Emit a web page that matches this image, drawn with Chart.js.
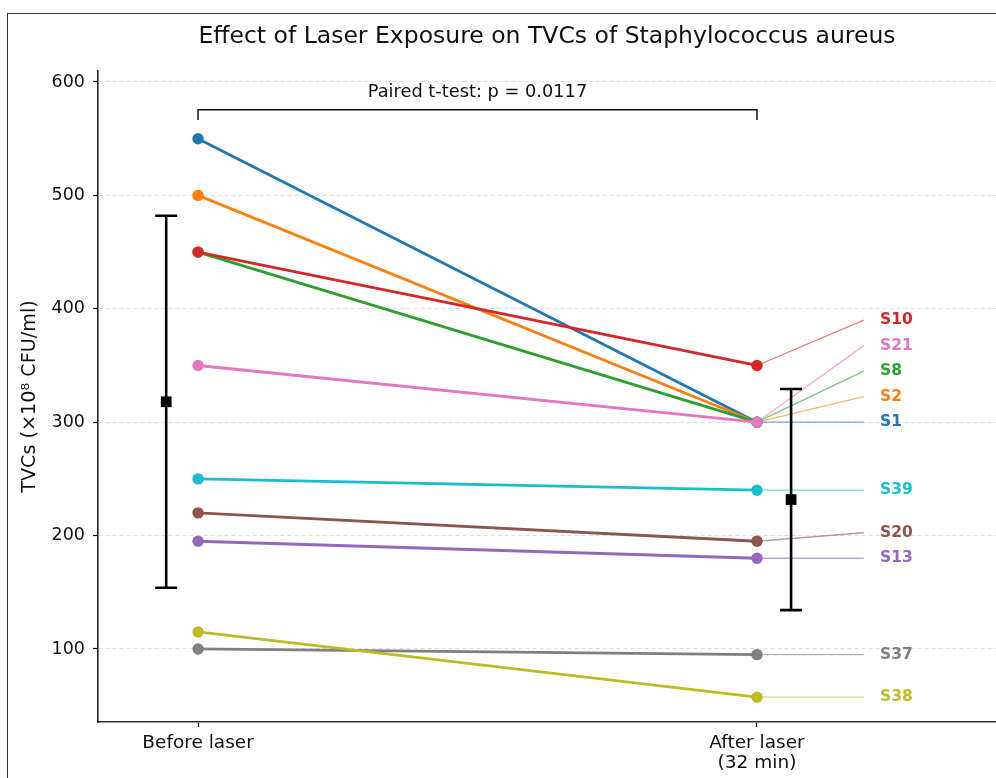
<!DOCTYPE html>
<html>
<head>
<meta charset="utf-8">
<script src="https://cdn.jsdelivr.net/npm/chart.js@4.4.1/dist/chart.umd.min.js"></script>
<style>
  html, body { margin: 0; padding: 0; background: #fff; }
  #wrap { position: relative; width: 996px; height: 778px; overflow: hidden; }
  #frame { position: absolute; left: 7px; top: 12.5px; right: -4px; bottom: -4px;
           border-top: 1.5px solid #333; border-left: 1.5px solid #333; }
  #c { position: absolute; left: 0; top: 0; }
</style>
</head>
<body>
<div id="wrap"><div id="frame"></div><canvas id="c" width="996" height="778"></canvas></div>
<script>
// Strains and their TVCs (x10^8 CFU/ml) before / after 32 min laser exposure
const strains = ['S1', 'S2', 'S8', 'S10', 'S13', 'S20', 'S21', 'S37', 'S38', 'S39'];
const beforeVals = [550, 500, 450, 450, 195, 220, 350, 100, 115, 250];
const afterVals = [300, 300, 300, 350, 180, 195, 300, 95, 57.5, 240];
// where each strain label sits (spread out so they don't overlap)
const labelY = [300, 322.5, 345, 390, 180, 202.5, 367.5, 95, 57.5, 240];
const conditions = ['Before laser', ['After laser', '(32 min)']];
const groupMeans = [318, 231.75];
const groupSD = [164, 97.5];
const yTicks = [100, 200, 300, 400, 500, 600];
const pText = 'Paired t-test: p = 0.0117';

const colors = ['#1f77b4', '#ff7f0e', '#2ca02c', '#d62728', '#9467bd',
                '#8c564b', '#e377c2', '#7f7f7f', '#bcbd22', '#17becf'];

// x positions (Before = 0, After = 1)
const meanX = [-0.057, 1.061];
const connectorEndX = 1.191;
const labelX = 1.22;
const bracketY = 575.5, bracketTickY = 566.5, pTextY = 590.5;
const FONT = "'DejaVu Sans', sans-serif";

const datasets = [];
strains.forEach((s, i) => {
    datasets.push({
        label: s,
        data: [{ x: 0, y: beforeVals[i] }, { x: 1, y: afterVals[i] }],
        showLine: true,
        borderColor: colors[i],
        backgroundColor: colors[i],
        borderWidth: 2.8,
        pointRadius: 5.7,
        pointHoverRadius: 5.7,
        pointBorderWidth: 0,
        order: 100 - i
    });
    datasets.push({
        label: s + ' label',
        data: [{ x: 1, y: afterVals[i] }, { x: connectorEndX, y: labelY[i] }],
        showLine: true,
        borderColor: colors[i] + '99',
        borderWidth: 1.3,
        pointRadius: 0,
        order: 200 - i
    });
});
datasets.push({
    label: 'mean',
    data: meanX.map((x, i) => ({ x: x, y: groupMeans[i] })),
    pointStyle: 'rect',
    pointRadius: 7.6,
    pointHoverRadius: 7.6,
    backgroundColor: '#000',
    borderWidth: 0,
    order: 0
});

const extras = {
    id: 'extras',
    afterDatasetsDraw(chart) {
        const { ctx, chartArea, scales: { x, y } } = chart;
        ctx.save();
        // error bars (mean +/- SD)
        ctx.strokeStyle = '#000';
        ctx.lineWidth = 2.6;
        meanX.forEach((mx, i) => {
            const px = x.getPixelForValue(mx);
            const top = y.getPixelForValue(groupMeans[i] + groupSD[i]);
            const bot = y.getPixelForValue(groupMeans[i] - groupSD[i]);
            ctx.beginPath();
            ctx.moveTo(px, top); ctx.lineTo(px, bot);
            ctx.moveTo(px - 11, top); ctx.lineTo(px + 11, top);
            ctx.moveTo(px - 11, bot); ctx.lineTo(px + 11, bot);
            ctx.stroke();
        });
        // strain labels
        ctx.font = 'bold 15.5px ' + FONT;
        ctx.textAlign = 'left';
        ctx.textBaseline = 'middle';
        strains.forEach((s, i) => {
            ctx.fillStyle = colors[i];
            ctx.fillText(s, x.getPixelForValue(labelX), y.getPixelForValue(labelY[i]));
        });
        // significance bracket
        const x0 = x.getPixelForValue(0), x1 = x.getPixelForValue(1);
        const yb = y.getPixelForValue(bracketY), yt = y.getPixelForValue(bracketTickY);
        ctx.lineWidth = 1.5;
        ctx.strokeStyle = '#111';
        ctx.beginPath();
        ctx.moveTo(x0, yt); ctx.lineTo(x0, yb); ctx.lineTo(x1, yb); ctx.lineTo(x1, yt);
        ctx.stroke();
        ctx.fillStyle = '#111';
        ctx.font = '17.8px ' + FONT;
        ctx.textAlign = 'center';
        ctx.fillText(pText, (x0 + x1) / 2, y.getPixelForValue(pTextY));
        // title
        ctx.font = '23.5px ' + FONT;
        ctx.fillText('Effect of Laser Exposure on TVCs of Staphylococcus aureus',
                     (chartArea.left + chartArea.right) / 2, 37);
        ctx.restore();
    }
};

new Chart(document.getElementById('c'), {
    type: 'scatter',
    data: { datasets: datasets },
    plugins: [extras],
    options: {
        responsive: false,
        animation: false,
        layout: { autoPadding: false, padding: { top: 71, left: 0, right: 0, bottom: 0 } },
        plugins: { legend: { display: false }, tooltip: { enabled: false } },
        scales: {
            x: {
                type: 'linear',
                min: -0.179,
                max: 1.4276,
                afterFit: (scale) => {
                    scale.height = 56;
                    scale.paddingLeft = 0;
                    scale.paddingRight = 0;
                },
                afterBuildTicks: (scale) => { scale.ticks = [{ value: 0 }, { value: 1 }]; },
                ticks: {
                    callback: (v, i) => conditions[i],
                    color: '#111',
                    font: { family: FONT, size: 18.5, lineHeight: 1.1 },
                    padding: 6,
                    maxRotation: 0
                },
                grid: { drawOnChartArea: false, drawTicks: true, tickLength: 5, tickColor: '#111', tickWidth: 1.2 },
                border: { color: '#333', width: 1.6 }
            },
            y: {
                min: 35.6,
                max: 609.7,
                afterFit: (scale) => { scale.width = 98; },
                afterBuildTicks: (scale) => { scale.ticks = yTicks.map(v => ({ value: v })); },
                ticks: {
                    color: '#111',
                    font: { family: FONT, size: 17.5 },
                    padding: 8
                },
                grid: {
                    color: '#dddddd', lineWidth: 1,
                    drawTicks: true, tickLength: 5, tickColor: '#111', tickWidth: 1.2, tickBorderDash: []
                },
                border: { color: '#222', width: 1.6, dash: [4, 3] },
                title: {
                    display: true,
                    text: 'TVCs (\u00d710\u2078 CFU/ml)',
                    color: '#111',
                    font: { family: FONT, size: 19.2 },
                    padding: { top: 18.5, bottom: 0 }
                }
            }
        }
    }
});
</script>
</body>
</html>
